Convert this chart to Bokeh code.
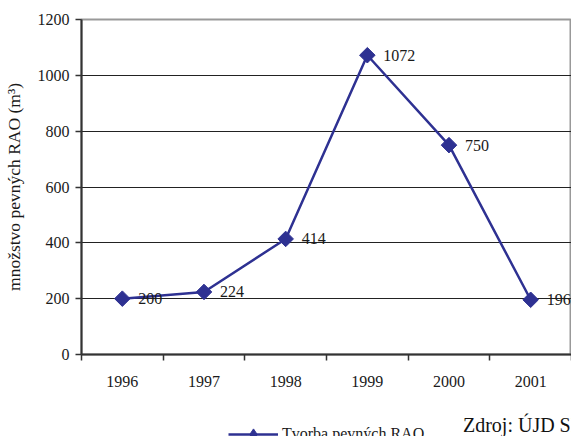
from bokeh.plotting import figure
from bokeh.layouts import column
from bokeh.models import (FixedTicker, Legend, LegendItem, Label, ColumnDataSource,
                          Range1d, LabelSet)
from bokeh.embed import file_html
from bokeh.resources import INLINE
import numpy as np

# Solid radioactive waste produced per year (m3)
years = [1996, 1997, 1998, 1999, 2000, 2001]
volumes = [200, 224, 414, 1072, 750, 196]
y_ticks = [0, 200, 400, 600, 800, 1000, 1200]
series_name = "Tvorba pevných RAO"
y_title = "množstvo pevných RAO (m³)"
source_note = "Zdroj: ÚJD SR"

SERIF = "Liberation Serif"
NAVY = "#2E3192"
INK = "#1a1a1a"
W = 571
LEFT = 79      # width of the y-axis gutter

src = ColumnDataSource(dict(x=years, y=volumes, lbl=[str(v) for v in volumes]))

# ---- main chart -------------------------------------------------------------
p = figure(width=W, height=400, output_backend="svg", toolbar_location=None,
           x_range=Range1d(years[0] - 0.5, years[-1] + 0.5),
           y_range=Range1d(y_ticks[0], y_ticks[-1]),
           min_border_left=LEFT, min_border_right=0, min_border_top=19,
           min_border_bottom=46)

p.background_fill_color = "white"
p.border_fill_color = "white"
p.outline_line_color = "#999999"
p.outline_line_width = 2

# category axis: labels at year centres, tick marks between years
boundaries = [y - 0.5 for y in years] + [years[-1] + 0.5]
p.xaxis.ticker = FixedTicker(ticks=years, minor_ticks=boundaries)
p.xaxis.major_tick_line_color = None
p.xaxis.major_tick_out = 6
p.xaxis.major_tick_in = 0
p.xaxis.minor_tick_out = 6
p.xaxis.minor_tick_in = 0
p.xaxis.minor_tick_line_color = "#333333"
p.xaxis.minor_tick_line_width = 1.5
p.xaxis.axis_line_color = "#333333"
p.xaxis.axis_line_width = 2
p.xaxis.major_label_standoff = 15
p.xaxis.major_label_text_font = SERIF
p.xaxis.major_label_text_font_size = "16px"
p.xaxis.major_label_text_color = INK

p.yaxis.ticker = FixedTicker(ticks=y_ticks)
p.yaxis.minor_tick_line_color = None
p.yaxis.major_tick_out = 6
p.yaxis.major_tick_in = 0
p.yaxis.major_tick_line_color = "#333333"
p.yaxis.major_tick_line_width = 1.5
p.yaxis.axis_line_color = "#333333"
p.yaxis.axis_line_width = 2
p.yaxis.major_label_standoff = 6
p.yaxis.major_label_text_font = SERIF
p.yaxis.major_label_text_font_size = "16px"
p.yaxis.major_label_text_color = INK
p.yaxis.axis_label = y_title
p.yaxis.axis_label_text_font = SERIF
p.yaxis.axis_label_text_font_style = "normal"
p.yaxis.axis_label_text_font_size = "17.5px"
p.yaxis.axis_label_text_color = INK
p.yaxis.axis_label_standoff = 11

p.xgrid.grid_line_color = None
p.ygrid.ticker = FixedTicker(ticks=y_ticks)
p.ygrid.grid_line_color = "#222222"
p.ygrid.grid_line_width = 1

line_kw = dict(line_color=NAVY, line_width=2.5)

p.line("x", "y", source=src, **line_kw)
p.scatter("x", "y", source=src, size=11, marker="square", angle=np.pi / 4,
          fill_color=NAVY, line_color=NAVY)

labels = LabelSet(x="x", y="y", text="lbl", source=src, x_offset=16, y_offset=0,
                  text_font=SERIF, text_font_size="16px", text_color=INK,
                  text_baseline="middle", text_align="left")
p.add_layout(labels)

# ---- footer strip: series key and source note -------------------------------
# The strip's frame lines up with the chart frame, so its x range is given in
# page pixels from LEFT to the right edge.
f = figure(width=W, height=36, output_backend="svg", toolbar_location=None,
           x_range=Range1d(LEFT, W), y_range=Range1d(0, 36),
           x_axis_location=None, y_axis_location=None,
           min_border=0)
f.outline_line_color = None
f.grid.grid_line_color = None
f.background_fill_color = "white"
f.border_fill_color = "white"

# key glyphs share the series styling; their data lies outside this strip's ranges
key_line = f.line("x", "y", source=src, **line_kw)
key_pts = f.scatter("x", "y", source=src, size=11, marker="diamond",
                    fill_color=NAVY, line_color=NAVY)

legend = Legend(items=[LegendItem(label=series_name, renderers=[key_line, key_pts])],
                location=(226 - LEFT, -12), orientation="horizontal",
                glyph_width=50, glyph_height=28, label_height=28, label_standoff=4,
                label_text_font=SERIF, label_text_font_size="16px",
                label_text_color=INK, label_text_baseline="middle",
                border_line_color=None, background_fill_alpha=0,
                padding=0, margin=0, spacing=0)
f.add_layout(legend)

note = Label(x=462, y=12, text=source_note,
             text_font=SERIF, text_font_size="20px", text_color="#111111",
             text_baseline="alphabetic", text_align="left")
f.add_layout(note)

layout = column(p, f, spacing=0)
open("out.html", "w").write(file_html(layout, INLINE))
